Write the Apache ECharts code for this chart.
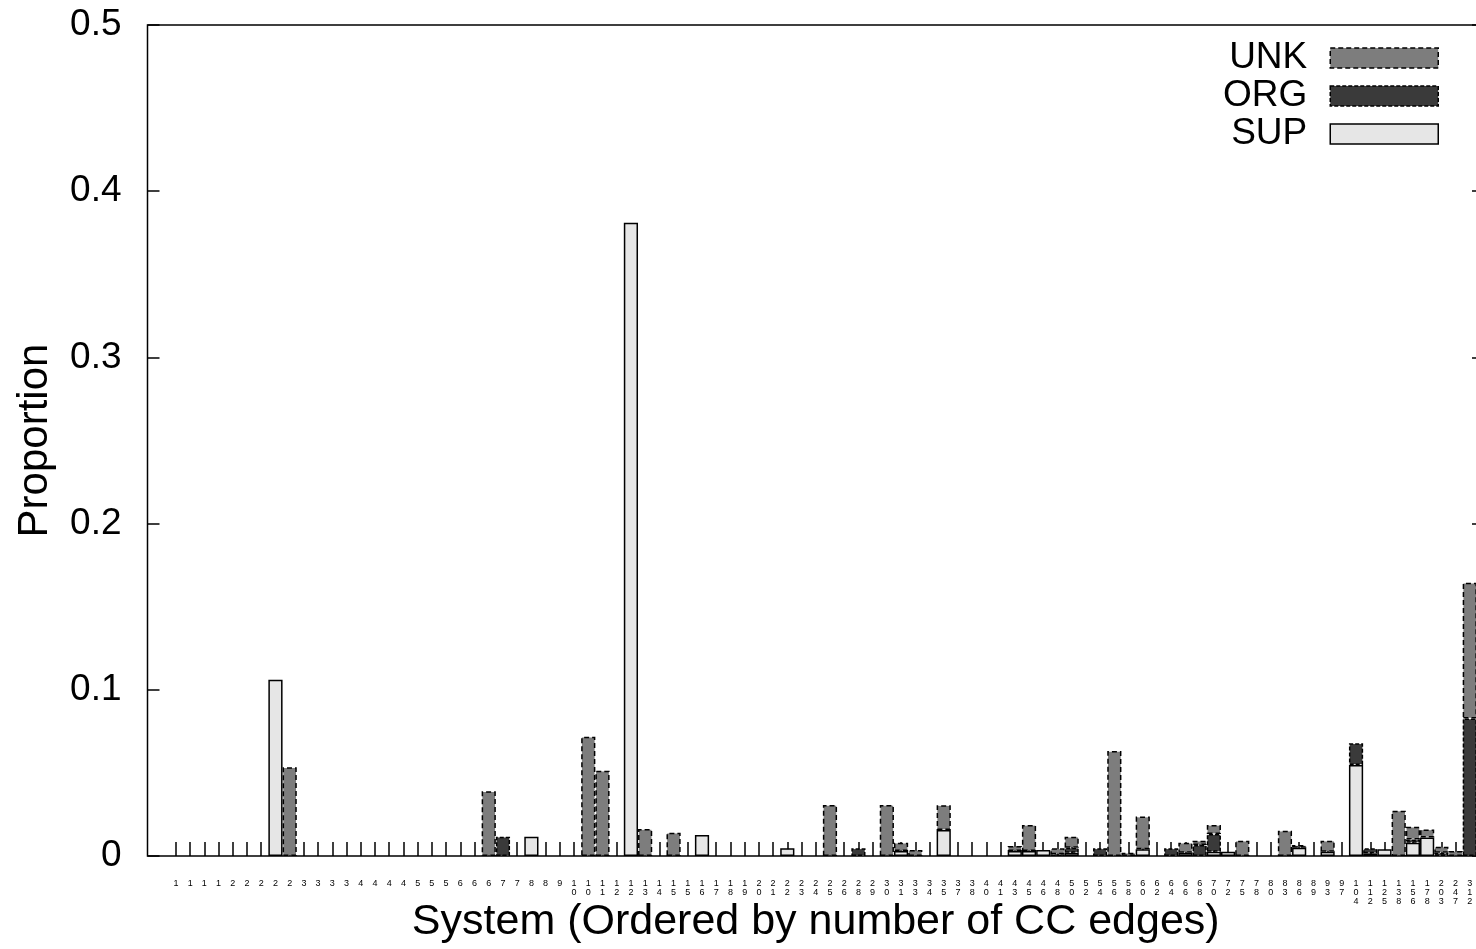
<!DOCTYPE html>
<html>
<head>
<meta charset="utf-8">
<script src="https://cdn.jsdelivr.net/npm/echarts@6/dist/echarts.min.js"></script>
<style>
html,body{margin:0;padding:0;background:#fff;}
#chart{width:1476px;height:949px;}
</style>
</head>
<body>
<div id="chart"></div>
<script>
// Category (system) tick labels, ordered by number of CC edges
const categories = [
  '1','1','1','1','2','2','2','2','2','3',
  '3','3','3','4','4','4','4','5','5','5',
  '6','6','6','7','7','8','8','9','10','10',
  '11','12','12','13','14','15','15','16','17','18',
  '19','20','21','22','23','24','25','26','28','29',
  '30','31','33','34','35','37','38','40','41','43',
  '45','46','48','50','52','54','56','58','60','62',
  '64','66','68','70','72','75','78','80','83','86',
  '89','93','97','104','112','125','138','156','178','203',
  '247','312'
];

const supValues = [
  0,0,0,0,0,0,0,0.106,0,0,
  0,0,0,0,0,0,0,0,0,0,
  0,0,0,0,0,0.0116,0,0,0,0,
  0,0,0.381,0,0,0,0,0.0126,0,0,
  0,0,0,0.0046,0,0,0,0,0,0,
  0,0.003,0,0,0.0156,0,0,0,0,0.003,
  0.003,0.0036,0,0.002,0,0,0,0,0.004,0,
  0,0.002,0,0.0026,0.0026,0,0,0,0,0.005,
  0,0.0026,0,0.0548,0.0016,0.004,0,0.008,0.0112,0,
  0,0
];

const orgValues = [
  0,0,0,0,0,0,0,0,0,0,
  0,0,0,0,0,0,0,0,0,0,
  0,0,0,0.0116,0,0,0,0,0,0,
  0,0,0,0,0,0,0,0,0,0,
  0,0,0,0,0,0,0,0,0.0046,0,
  0,0,0,0,0,0,0,0,0,0,
  0,0,0.001,0.003,0,0.0046,0,0,0,0,
  0.0046,0,0.0066,0.0106,0,0,0,0,0,0,
  0,0,0,0.013,0.003,0,0,0.002,0,0.002,
  0,0.0828
];

const unkValues = [
  0,0,0,0,0,0,0,0,0.0534,0,
  0,0,0,0,0,0,0,0,0,0,
  0,0,0.039,0,0,0,0,0,0,0.0718,
  0.0513,0,0,0.0162,0,0.014,0,0,0,0,
  0,0,0,0,0,0,0.0307,0,0,0,
  0.0307,0.005,0.0036,0,0.015,0,0,0,0,0.003,
  0.0157,0,0.0036,0.0066,0,0,0.0632,0.002,0.0197,0,
  0,0.006,0.0026,0.0055,0,0.0092,0,0,0.0152,0.0016,
  0,0.0066,0,0,0,0,0.0273,0.0076,0.0048,0.0036,
  0.003,0.0816
];

const yTickLabels = ['0','0.1','0.2','0.3','0.4','0.5'];
const legendOrder = ['UNK','ORG','SUP'];

const FONT = '"Liberation Sans", Arial, Helvetica, sans-serif';
// two empty slots before the first system and one after the last (axis padding)
const axisCats = ['', ''].concat(categories, ['']);
const toData = arr => ['-', '-'].concat(arr.map(v => (v ? v : '-')), ['-']);

const styles = {
  SUP: {color: '#e6e6e6', borderColor: '#000', borderWidth: 1.5, borderType: 'solid'},
  ORG: {color: '#3a3a3a', borderColor: '#000', borderWidth: 1.5, borderType: [4, 2]},
  UNK: {color: '#7d7d7d', borderColor: '#000', borderWidth: 1.5, borderType: [5, 3]}
};

const chart = echarts.init(document.getElementById('chart'), null, {renderer: 'canvas'});
const option = {
  animation: false,
  backgroundColor: '#fff',
  textStyle: {fontFamily: FONT},
  grid: {
    left: 147.5, top: 25, bottom: 93, right: -8,
    outerBoundsMode: 'none',
    containLabel: false,
    show: true, borderColor: '#000', borderWidth: 1.5, backgroundColor: 'transparent'
  },
  legend: {
    data: legendOrder.map(n => ({name: n, itemStyle: styles[n]})),
    orient: 'vertical',
    align: 'right',
    right: 32,
    top: 34,
    itemWidth: 108,
    itemHeight: 20,
    itemGap: 0,
    selectedMode: false,
    icon: 'rect',
    textStyle: {fontSize: 37, fontFamily: FONT, color: '#000', lineHeight: 38, padding: [0, 18, 0, 0]}
  },
  xAxis: {
    type: 'category',
    data: axisCats,
    boundaryGap: false,
    name: 'System (Ordered by number of CC edges)',
    nameLocation: 'middle',
    nameGap: 45,
    nameMoveOverlap: false,
    nameTextStyle: {fontSize: 43, fontFamily: FONT, color: '#000'},
    axisLine: {show: false},
    splitLine: {show: false},
    axisTick: {show: true, inside: true, length: 14,
      interval: (i, v) => v !== '',
      lineStyle: {color: '#000', width: 1.5}},
    axisLabel: {
      show: true, interval: (i, v) => v !== '', margin: 23,
      fontSize: 9, lineHeight: 9, color: '#000', fontFamily: FONT,
      verticalAlign: 'top',
      formatter: v => v.split('').join('\n')
    }
  },
  yAxis: [{
    type: 'value',
    min: 0, max: 0.5, interval: 0.1,
    position: 'left',
    name: 'Proportion',
    nameLocation: 'middle',
    nameRotate: 90,
    nameGap: 91,
    nameMoveOverlap: false,
    nameTextStyle: {fontSize: 42, fontFamily: FONT, color: '#000'},
    axisLine: {show: false, onZero: false},
    splitLine: {show: false},
    axisTick: {show: true, inside: true, length: 12, lineStyle: {color: '#000', width: 1.5}},
    axisLabel: {fontSize: 37, color: '#000', margin: 26, fontFamily: FONT,
      formatter: (v, i) => yTickLabels[i]}
  }, {
    type: 'value',
    min: 0, max: 0.5, interval: 0.1,
    position: 'right',
    axisLine: {show: false, onZero: false},
    splitLine: {show: false},
    axisTick: {show: true, inside: true, length: 12, lineStyle: {color: '#000', width: 1.5}},
    axisLabel: {show: false}
  }],
  series: [
    {name: 'SUP', type: 'bar', stack: 'all', barWidth: 14.2, data: toData(supValues), itemStyle: styles.SUP},
    {name: 'ORG', type: 'bar', stack: 'all', barWidth: 14.2, data: toData(orgValues), itemStyle: styles.ORG},
    {name: 'UNK', type: 'bar', stack: 'all', barWidth: 14.2, data: toData(unkValues), itemStyle: styles.UNK}
  ]
};
chart.setOption(option);
</script>
</body>
</html>
